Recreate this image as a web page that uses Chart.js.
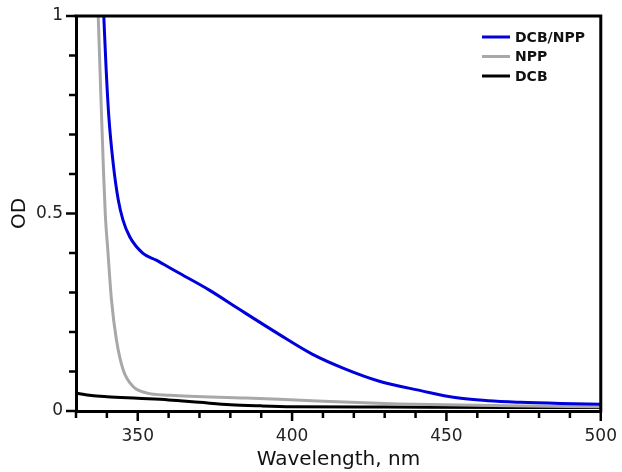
<!DOCTYPE html>
<html lang="en">
<head>
<meta charset="UTF-8">
<title>OD spectra</title>
<script src="https://cdn.jsdelivr.net/npm/chart.js"></script>
<style>
    html, body { margin: 0; padding: 0; background: #fff; }
    .chartWrap { width: 622px; height: 472px; }
</style>
</head>
<body>
<div class="chartWrap"><canvas id="myChart"></canvas></div>
<script>
    // series (wavelength nm, OD)
    const seriesNames = ['DCB/NPP', 'NPP', 'DCB'];
    const seriesColors = ['rgb(0, 0, 220)', 'rgb(168, 168, 168)', 'rgb(0, 0, 0)'];

    const dcbNppX = [339.0, 339.7, 340.6, 342.1, 343.7, 345.2, 347.4, 351.7, 356.0, 362.5, 373.2, 382.4, 395.8, 406.5, 417.3, 428, 442, 452.8, 463.5, 474, 487, 500];
    const dcbNppY = [1.0, 0.876, 0.749, 0.623, 0.534, 0.484, 0.441, 0.399, 0.382, 0.353, 0.306, 0.26, 0.194, 0.144, 0.106, 0.076, 0.051, 0.034, 0.026, 0.022, 0.019, 0.017];

    const nppX = [337.2, 338.1, 338.9, 339.5, 340.3, 341.5, 343.1, 345.3, 348.5, 352.8, 360.3, 385, 406.5, 434.5, 470, 500];
    const nppY = [1.0, 0.787, 0.61, 0.496, 0.408, 0.281, 0.18, 0.104, 0.062, 0.046, 0.040, 0.033, 0.026, 0.018, 0.013, 0.011];

    const dcbX = [330, 335, 340, 350, 360, 370, 380, 390, 400, 430, 470, 500];
    const dcbY = [0.045, 0.039, 0.036, 0.032, 0.028, 0.022, 0.016, 0.013, 0.011, 0.010, 0.009, 0.009];

    const xLabelTicks = [350, 400, 450, 500];
    const yLabelTicks = [0, 0.5, 1];

    const toPoints = (xs, ys) => xs.map((x, i) => ({ x: x, y: ys[i] }));
    const isLabelTick = (list, v) => list.some((t) => Math.abs(t - v) < 1e-6);

    let chartData = {
        datasets: [
            { label: seriesNames[0], data: toPoints(dcbNppX, dcbNppY), borderColor: seriesColors[0] },
            { label: seriesNames[1], data: toPoints(nppX, nppY), borderColor: seriesColors[1] },
            { label: seriesNames[2], data: toPoints(dcbX, dcbY), borderColor: seriesColors[2] }
        ]
    };

    // frame on top/right, ticks of two lengths, legend inside the plot
    const framePlugin = {
        id: 'frame',
        afterDraw(chart) {
            const { ctx, chartArea } = chart;
            const { left, right, top, bottom } = chartArea;
            ctx.save();
            ctx.strokeStyle = '#000';
            ctx.lineWidth = 3;
            ctx.beginPath();
            ctx.moveTo(left - 1.5, top);
            ctx.lineTo(right, top);
            ctx.lineTo(right, bottom + 1.5);
            ctx.stroke();

            ctx.lineWidth = 2.5;
            const xs = chart.scales.x;
            xs.ticks.forEach((t) => {
                const px = xs.getPixelForValue(t.value);
                const len = isLabelTick(xLabelTicks, t.value) ? 10 : 7;
                ctx.beginPath();
                ctx.moveTo(px, bottom);
                ctx.lineTo(px, bottom + len);
                ctx.stroke();
            });
            const ys = chart.scales.y;
            ys.ticks.forEach((t) => {
                const py = ys.getPixelForValue(t.value);
                const len = isLabelTick(yLabelTicks, t.value) ? 10 : 7;
                ctx.beginPath();
                ctx.moveTo(left, py);
                ctx.lineTo(left - len, py);
                ctx.stroke();
            });

            // legend
            ctx.font = 'bold 14px "DejaVu Sans"';
            ctx.textBaseline = 'middle';
            ctx.textAlign = 'left';
            chart.data.datasets.forEach((ds, i) => {
                const y = 37 + i * 19.5;
                ctx.strokeStyle = ds.borderColor;
                ctx.lineWidth = 3;
                ctx.beginPath();
                ctx.moveTo(482, y);
                ctx.lineTo(510, y);
                ctx.stroke();
                ctx.fillStyle = '#111';
                ctx.fillText(ds.label, 515, y + 1);
            });
            ctx.restore();
        }
    };

    let option = {
        responsive: true,
        maintainAspectRatio: false,
        animation: false,
        devicePixelRatio: 1,
        layout: { padding: { top: 16, right: 19, left: 0, bottom: 0 } },
        elements: {
            point: { radius: 0 },
            line: { borderWidth: 3, cubicInterpolationMode: 'monotone', fill: false }
        },
        plugins: {
            legend: { display: false },
            tooltip: { enabled: false }
        },
        scales: {
            x: {
                type: 'linear',
                min: 330,
                max: 500,
                afterFit: (s) => { s.height = 61; },
                grid: { display: false, drawTicks: true, tickLength: 10 },
                border: { display: true, color: '#000', width: 3 },
                ticks: {
                    stepSize: 10,
                    autoSkip: false,
                    maxRotation: 0,
                    padding: 5,
                    color: '#222',
                    font: { family: 'DejaVu Sans', size: 17 },
                    callback: (v) => isLabelTick(xLabelTicks, v) ? String(v) : ''
                },
                title: {
                    display: true,
                    text: 'Wavelength, nm',
                    color: '#111',
                    font: { family: 'DejaVu Sans', size: 20 },
                    padding: { top: 0, bottom: 0 }
                }
            },
            y: {
                type: 'linear',
                min: 0,
                max: 1,
                afterFit: (s) => { s.width = 76; },
                grid: { display: false, drawTicks: true, tickLength: 10 },
                border: { display: true, color: '#000', width: 3 },
                ticks: {
                    stepSize: 0.1,
                    autoSkip: false,
                    padding: 3,
                    color: '#222',
                    font: { family: 'DejaVu Sans', size: 17 },
                    callback: (v) => isLabelTick(yLabelTicks, v) ? String(v) : ''
                },
                title: {
                    display: true,
                    text: 'OD',
                    color: '#111',
                    font: { family: 'DejaVu Sans', size: 20 },
                    padding: { top: 8, bottom: 0 }
                }
            }
        }
    };

    let ctx = document.getElementById('myChart').getContext('2d');
    let myChart = new Chart(ctx, {
        type: 'line',
        data: chartData,
        options: option,
        plugins: [framePlugin]
    });
</script>
</body>
</html>
